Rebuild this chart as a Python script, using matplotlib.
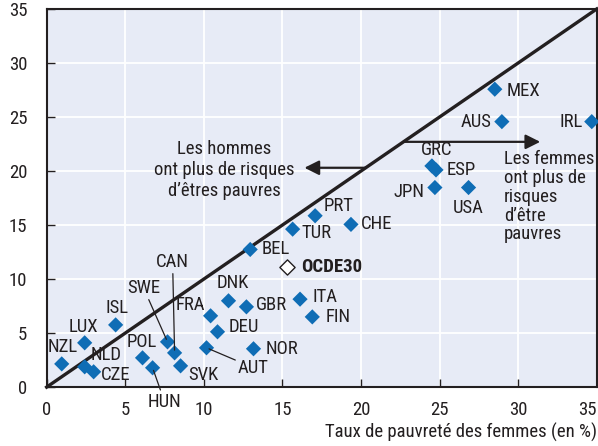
import matplotlib
matplotlib.use("Agg")
import matplotlib.pyplot as plt

plt.rcParams['font.family'] = ['Roboto Condensed', 'DejaVu Sans']

# data: poverty rate women (x) vs men (y), %
countries = ['NZL', 'LUX', 'ISL', 'NLD', 'CZE', 'POL', 'HUN', 'SWE', 'CAN', 'SVK',
             'FRA', 'DEU', 'AUT', 'DNK', 'GBR', 'NOR', 'BEL', 'TUR', 'PRT', 'CHE',
             'ITA', 'FIN', 'MEX', 'AUS', 'IRL', 'GRC', 'ESP', 'JPN', 'USA']
women = [0.96, 2.42, 4.39, 2.42, 2.99, 6.1, 6.74, 7.69, 8.14, 8.52,
         10.43, 10.87, 10.17, 11.57, 12.71, 13.16, 12.95, 15.65, 17.08, 19.36,
         16.12, 16.9, 28.51, 28.96, 34.68, 24.51, 24.77, 24.7, 26.84]
men = [2.15, 4.1, 5.76, 1.88, 1.42, 2.71, 1.79, 4.19, 3.17, 1.97,
       6.6, 5.12, 3.64, 7.99, 7.43, 3.55, 12.74, 14.62, 15.86, 15.06,
       8.14, 6.5, 27.57, 24.57, 24.57, 20.47, 20.1, 18.47, 18.47]
oecd_label = 'OCDE30'
oecd_women = 15.27
oecd_men = 11.1

ticks = [0, 5, 10, 15, 20, 25, 30, 35]

# label placement: (dx, dy) in pixels, ha, leader line
offsets = {
    'NZL': (1, 17, 'center', False), 'LUX': (-1, 16, 'center', False),
    'ISL': (1, 17, 'center', False), 'NLD': (21, 12, 'center', False),
    'CZE': (22, -3, 'center', False), 'POL': (-1, 16, 'center', False),
    'HUN': (12, -34, 'center', True), 'SWE': (-24, 54, 'center', True),
    'CAN': (-2, 91, 'center', True), 'SVK': (23, -9, 'center', False),
    'FRA': (-20, 11, 'center', False), 'DEU': (26, 5, 'center', False),
    'AUT': (47, -20, 'center', True), 'DNK': (4, 18, 'center', False),
    'GBR': (25, 2, 'center', False), 'NOR': (28, 0, 'center', False),
    'BEL': (11, 0, 'left', False), 'TUR': (9, -4, 'left', False),
    'PRT': (9, 10, 'left', False), 'CHE': (10, 0, 'left', False),
    'ITA': (12, 2, 'left', False), 'FIN': (13, 0, 'left', False),
    'MEX': (12, -2, 'left', False), 'AUS': (-10, 0, 'right', False),
    'IRL': (-9, 0, 'right', False), 'GRC': (5, 16, 'center', False),
    'ESP': (11, 0, 'left', False), 'JPN': (-10, -4, 'right', False),
    'USA': (0, -20, 'center', False),
}

blue = '#0f6db5'
txt = '#231f20'
fs = 13.5

fig = plt.figure(figsize=(5.98, 4.46), dpi=100)
ax = fig.add_axes([0.078, 0.132, 0.920, 0.848])
ax.set_facecolor('#e7ebf6')

ax.set_xlim(0, 35)
ax.set_ylim(0, 35)
ax.set_xticks(ticks)
ax.set_yticks(ticks)
ax.grid(True, color='white', linewidth=1.3)
ax.set_axisbelow(True)
for s in ax.spines.values():
    s.set_color(txt)
    s.set_linewidth(1.5)
ax.tick_params(direction='in', length=6, width=1, color=txt, labelcolor=txt,
               labelsize=fs, pad=10)
ax.tick_params(axis='y', pad=14)
ax.get_xticklabels()[-1].set_horizontalalignment('right')

# diagonal y = x
ax.plot([0, 35], [0, 35], color=txt, linewidth=2.4, zorder=3, clip_on=False)

# arrows
ax.annotate('', xy=(16.4, 20.3), xytext=(20.3, 20.3),
            arrowprops=dict(arrowstyle='-|>', color=txt, lw=1.6,
                            mutation_scale=22, shrinkA=0, shrinkB=0), zorder=4)
ax.annotate('', xy=(31.4, 22.7), xytext=(22.7, 22.7),
            arrowprops=dict(arrowstyle='-|>', color=txt, lw=1.6,
                            mutation_scale=22, shrinkA=0, shrinkB=0), zorder=4)
ax.text(11.3, 20.1, "Les hommes\nont plus de risques\nd\u2019êtres pauvres",
        ha='center', va='center', fontsize=fs, color=txt, linespacing=1.2)
ax.text(29.1, 21.9, "Les femmes\nont plus de\nrisques\nd\u2019être\npauvres",
        ha='left', va='top', fontsize=fs, color=txt, linespacing=1.05)

ax.scatter(women, men, marker='D', s=60, color=blue, edgecolors='none',
           zorder=5, clip_on=False)
ax.scatter([oecd_women], [oecd_men], marker='D', s=60, color='white',
           edgecolors=txt, linewidths=1, zorder=5)
ax.annotate(oecd_label, (oecd_women, oecd_men), xytext=(14, 0),
            textcoords='offset pixels', ha='left', va='center',
            fontsize=fs, fontweight='bold', color=txt)

for c, x, y in zip(countries, women, men):
    dx, dy, ha, leader = offsets[c]
    props = dict(arrowstyle='-', color=txt, lw=0.9, shrinkA=0, shrinkB=2) if leader else None
    ax.annotate(c, (x, y), xytext=(dx, dy), textcoords='offset pixels',
                ha=ha, va='center', fontsize=fs, color=txt,
                arrowprops=props, zorder=6)

fig.text(0.999, 0.01, 'Taux de pauvreté des femmes (en %)', ha='right',
         va='bottom', fontsize=fs, color=txt)

fig.savefig('out.png', dpi=100)
